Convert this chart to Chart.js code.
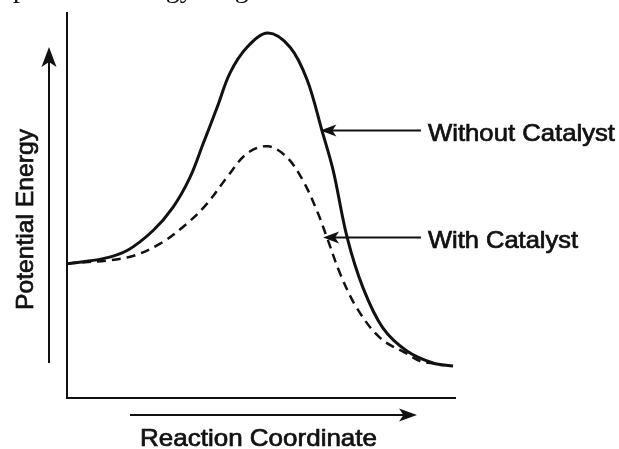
<!DOCTYPE html>
<html>
<head>
<meta charset="utf-8">
<script src="https://cdn.jsdelivr.net/npm/chart.js@4.4.1/dist/chart.umd.min.js"></script>
<style>
  html, body { margin: 0; padding: 0; background: #fff; }
  #wrap { width: 619px; height: 449px; position: relative; }
</style>
</head>
<body>
<div id="wrap"><canvas id="diagrama"></canvas></div>
<script>
// reaction coordinate (0-100) and potential energy (0-100)
const sinCatX = [0, 9.3, 15.5, 22.2, 27.3, 31.7, 35.1, 38.7, 42.0, 46.4, 51.8, 57.5, 61.9, 65.7, 68.6, 72.2, 76.3, 81.4, 87.6, 94.3, 99.5];
const sinCatY = [34.9, 36.2, 38.3, 43.5, 49.5, 57.3, 66.1, 75.5, 84.4, 91.1, 94.8, 91.1, 82.6, 69.5, 59.1, 41.7, 28.6, 18.2, 12.2, 9.1, 8.3];

const conCatX = [0, 15.5, 24.0, 30.9, 36.1, 41.2, 46.4, 51.8, 56.7, 60.8, 64.4, 67.0, 70.4, 74.7, 80.7, 87.6, 91.0, 95.0];
const conCatY = [34.9, 36.5, 40.1, 45.3, 50.5, 57.3, 63.5, 65.4, 62.5, 56.5, 48.7, 41.7, 32.3, 23.4, 15.6, 11.5, 9.6, 8.9];

const etiquetas = ["Without Catalyst", "With Catalyst"];
const tituloX = "Reaction Coordinate";
const tituloY = "Potential Energy";
const encabezado = "potential energy diagram";

function puntos(xs, ys){
    return xs.map((x, i) => ({x: x, y: ys[i]}));
}

// text with its width forced to a target (the scan is a bit stretched)
function textoAncho(ctx, txt, x, y, ancho){
    let w = ctx.measureText(txt).width;
    ctx.save();
    ctx.translate(x, y);
    ctx.scale(ancho / w, 1);
    ctx.lineWidth = 0.7;
    ctx.fillText(txt, 0, 0);
    ctx.strokeText(txt, 0, 0);
    ctx.restore();
}

function flecha(ctx, x1, y1, x2, y2, largo, ancho){
    let ang = Math.atan2(y2 - y1, x2 - x1);
    ctx.beginPath();
    ctx.moveTo(x1, y1);
    ctx.lineTo(x2 - Math.cos(ang) * largo * 0.7, y2 - Math.sin(ang) * largo * 0.7);
    ctx.stroke();
    ctx.save();
    ctx.translate(x2, y2);
    ctx.rotate(ang);
    ctx.beginPath();
    ctx.moveTo(0, 0);
    ctx.lineTo(-largo, -ancho / 2);
    ctx.lineTo(-largo * 0.75, 0);
    ctx.lineTo(-largo, ancho / 2);
    ctx.closePath();
    ctx.fill();
    ctx.restore();
}

const anotaciones = {
    id: 'anotaciones',
    afterDraw(chart){
        const ctx = chart.ctx;
        const sx = chart.scales.x, sy = chart.scales.y;
        ctx.save();
        ctx.fillStyle = '#111';
        ctx.strokeStyle = '#111';

        // cut-off heading at the very top
        ctx.font = '28px "Liberation Serif", "Times New Roman", serif';
        ctx.textBaseline = 'alphabetic';
        ctx.fillText(encabezado, 13, -3);

        // axis direction arrows
        ctx.lineWidth = 2;
        flecha(ctx, 49, 363, 49, 47, 20, 15);
        flecha(ctx, 130, 415, 417, 415, 18, 13);

        // axis titles
        ctx.font = '24px "Liberation Sans", Arial, sans-serif';
        textoAncho(ctx, tituloX, 140, 446, 237);
        ctx.save();
        ctx.translate(33, 310);
        ctx.rotate(-Math.PI / 2);
        textoAncho(ctx, tituloY, 0, 0, 181);
        ctx.restore();

        // labels pointing at the curves
        ctx.lineWidth = 2;
        let y1 = sy.getPixelForValue(69.5);
        flecha(ctx, 421, y1, sx.getPixelForValue(65.3), y1, 16, 12);
        textoAncho(ctx, etiquetas[0], 428, y1 + 11, 187);
        ctx.lineWidth = 2;
        let y2 = sy.getPixelForValue(41.7);
        flecha(ctx, 421, y2, sx.getPixelForValue(66.0), y2, 16, 12);
        textoAncho(ctx, etiquetas[1], 428, y2 + 11, 150);
        ctx.restore();
    }
};

const lienzo = document.getElementById('diagrama').getContext('2d');

const grafico = new Chart(lienzo, {
    type: 'scatter',
    data: {
        datasets: [
            {
                label: etiquetas[0],
                data: puntos(sinCatX, sinCatY),
                showLine: true,
                borderColor: '#111',
                borderWidth: 3,
                pointRadius: 0,
                tension: 0.35
            },
            {
                label: etiquetas[1],
                data: puntos(conCatX, conCatY),
                showLine: true,
                borderColor: '#111',
                borderWidth: 2.5,
                borderDash: [9, 6],
                pointRadius: 0,
                tension: 0.35
            }
        ]
    },
    options: {
        responsive: true,
        maintainAspectRatio: false,
        animation: false,
        layout: { padding: { left: 59, top: 13, right: 164, bottom: 43 } },
        plugins: { legend: { display: false }, tooltip: { enabled: false } },
        scales: {
            x: {
                type: 'linear', min: 0, max: 100,
                grid: { display: false },
                ticks: { display: false },
                border: { display: true, color: '#111', width: 2 }
            },
            y: {
                type: 'linear', min: 0, max: 100,
                grid: { display: false },
                ticks: { display: false },
                border: { display: true, color: '#111', width: 2 }
            }
        }
    },
    plugins: [anotaciones]
});
</script>
</body>
</html>
